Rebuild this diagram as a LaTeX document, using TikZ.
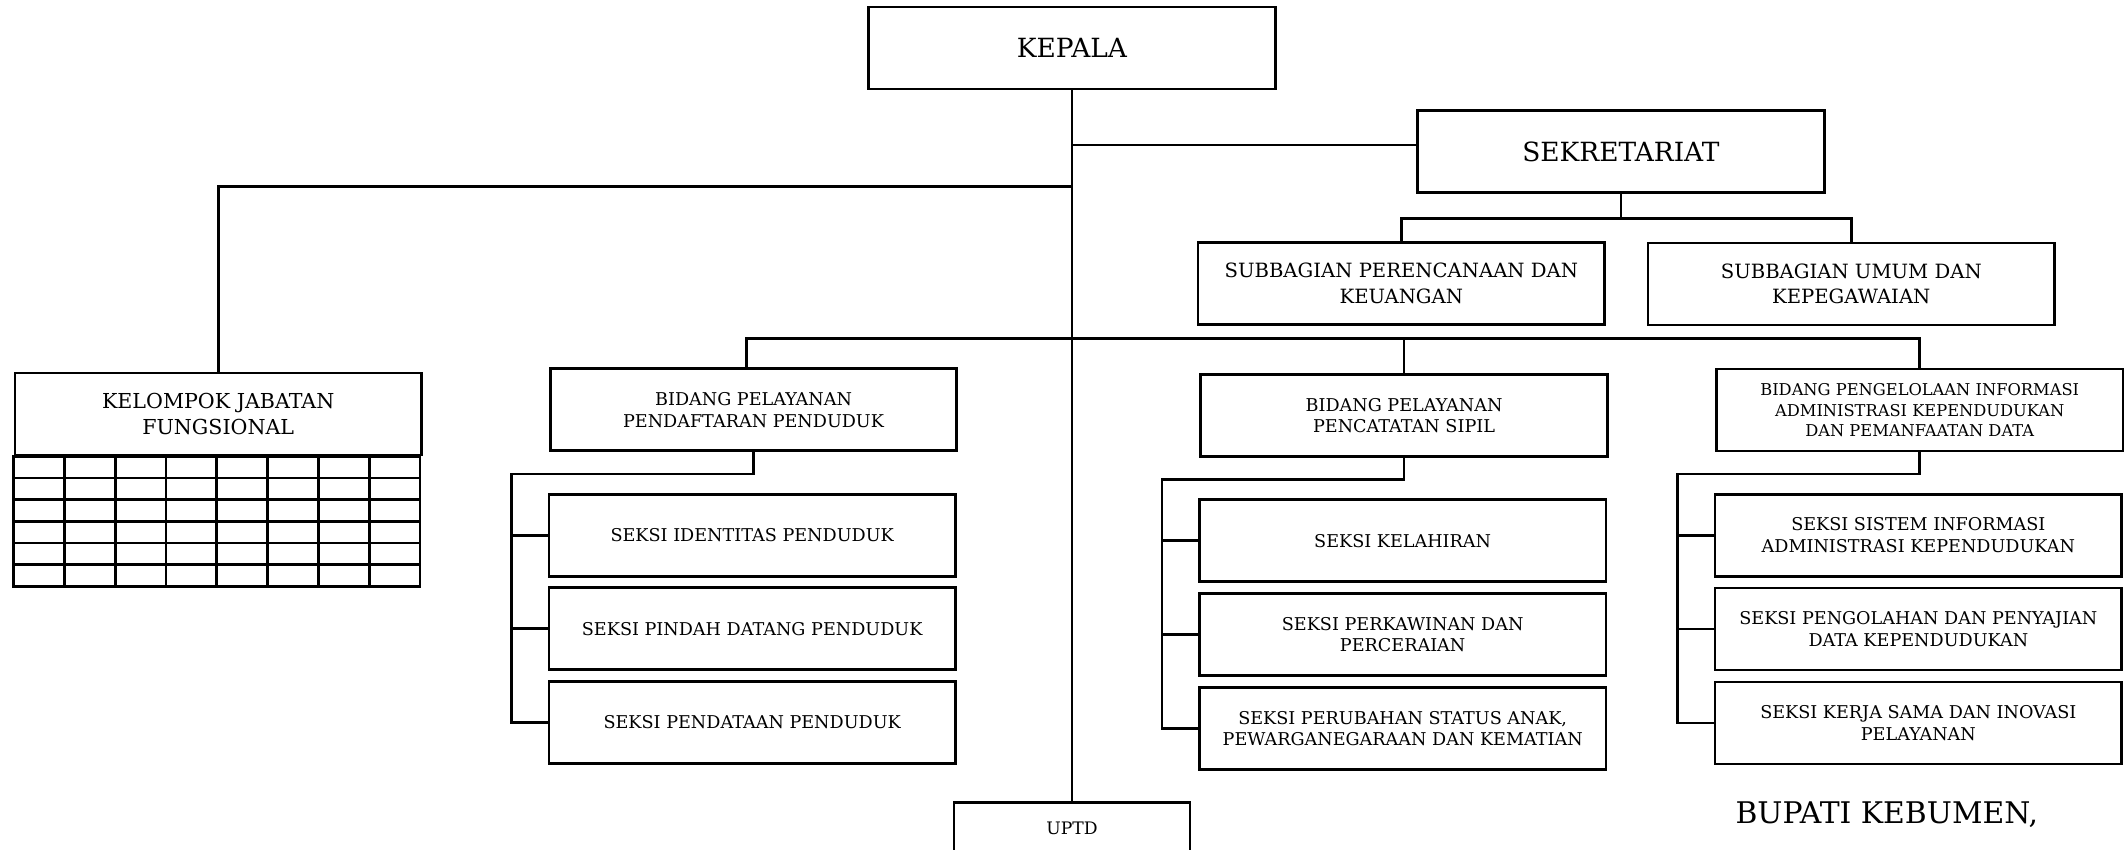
\documentclass[tikz,border=0pt]{standalone}
\usepackage{fontspec}
\setmainfont{DejaVu Serif}
\usepackage{tikz}

\begin{document}
\begin{tikzpicture}[x=1pt,y=-1pt,
  unit/.style={draw,line width=2pt,minimum width=300pt,minimum height=60.5pt,inner sep=0pt,align=center,font=\fontsize{13}{16}\selectfont},
  headunit/.style={unit,font=\fontsize{19.5}{22}\selectfont},
  subunit/.style={unit,font=\fontsize{14.5}{19}\selectfont},
  link/.style={line width=2pt}]
\useasboundingbox (0,0) rectangle (1568,626.5);

%Shape: Rectangle [kepala, sekretariat]
\node[headunit] (kepala) at (791,35.4) {KEPALA};
\node[headunit] (sekre) at (1196,112) {SEKRETARIAT};
\node[subunit] (renc) at (1034,209) {SUBBAGIAN PERENCANAAN DAN\\KEUANGAN};
\node[subunit] (umum) at (1366,209.5) {SUBBAGIAN UMUM DAN\\KEPEGAWAIAN};

%Shape: Rectangle [jabatan fungsional]
\node[unit,font=\fontsize{15.2}{19}\selectfont] (kjf) at (161,305.4) {KELOMPOK JABATAN\\FUNGSIONAL};
\draw[link] (kjf.south west) rectangle ++(300,96);
\foreach \r in {1,...,5} \draw[link] ([yshift=-\r*16pt]kjf.south west) -- ++(300,0);
\foreach \c in {1,...,7} \draw[link] ([xshift=\c*37.5pt]kjf.south west) -- ++(0,96);

%Shape: Rectangle [bidang]
\node[unit] (bpp) at (556,302.4) {BIDANG PELAYANAN\\PENDAFTARAN PENDUDUK};
\node[unit] (bps) at (1036,306.6) {BIDANG PELAYANAN\\PENCATATAN SIPIL};
\node[unit,font=\fontsize{12}{15}\selectfont] (bpi) at (1416.5,302.6) {BIDANG PENGELOLAAN INFORMASI\\ADMINISTRASI KEPENDUDUKAN\\DAN PEMANFAATAN DATA};

%Shape: Rectangle [seksi]
\node[unit] (pp1) at (555,394.9) {SEKSI IDENTITAS PENDUDUK};
\node[unit] (pp2) at (555,464) {SEKSI PINDAH DATANG PENDUDUK};
\node[unit] (pp3) at (555,533) {SEKSI PENDATAAN PENDUDUK};
\node[unit] (ps1) at (1035,398.9) {SEKSI KELAHIRAN};
\node[unit] (ps2) at (1035,468.3) {SEKSI PERKAWINAN DAN\\PERCERAIAN};
\node[unit] (ps3) at (1035,537.6) {SEKSI PERUBAHAN STATUS ANAK,\\PEWARGANEGARAAN DAN KEMATIAN};
\node[unit] (pi1) at (1415.5,394.9) {SEKSI SISTEM INFORMASI\\ADMINISTRASI KEPENDUDUKAN};
\node[unit] (pi2) at (1415.5,464.1) {SEKSI PENGOLAHAN DAN PENYAJIAN\\DATA KEPENDUDUKAN};
\node[unit] (pi3) at (1415.5,533.5) {SEKSI KERJA SAMA DAN INOVASI\\PELAYANAN};

%Shape: Rectangle [uptd]
\node[unit,minimum width=174pt,minimum height=38pt,font=\fontsize{12.7}{15}\selectfont] (uptd) at (791,611) {UPTD};

% Text Node
\node[anchor=base west,inner sep=0pt,font=\fontsize{22}{26}\selectfont] (bupati) at (1280.4,607.6) {BUPATI KEBUMEN,};

%Straight Lines
\coordinate (jsek) at (791,107);
\coordinate (jkjf) at (791,137.8);
\coordinate (bus) at (791,249.7);
\draw[link] (kepala.south) -- (uptd.north);
\draw[link] (jsek) -- (jsek -| sekre.west);
\draw[link] (jkjf) -| (kjf.north);
\draw[link] (sekre.south) -- ++(0,18.2) -| (renc.north);
\draw[link] (sekre.south) ++(0,18.2) -| (umum.north);
\draw[link] ([xshift=-5pt]bpp.north) |- (bus) -| (bpi.north);
\draw[link] (bps.north) -- (bps.north |- bus);
\foreach \b/\s in {bpp/pp,bps/ps,bpi/pi}{
  \draw[link] (\b.south) -- ++(0,16) -| ([xshift=-26.5pt]\s3.west) -- (\s3.west);
  \foreach \k in {1,2} \draw[link] ([xshift=-26.5pt]\s\k.west) -- (\s\k.west);
}

\end{tikzpicture}
\end{document}
